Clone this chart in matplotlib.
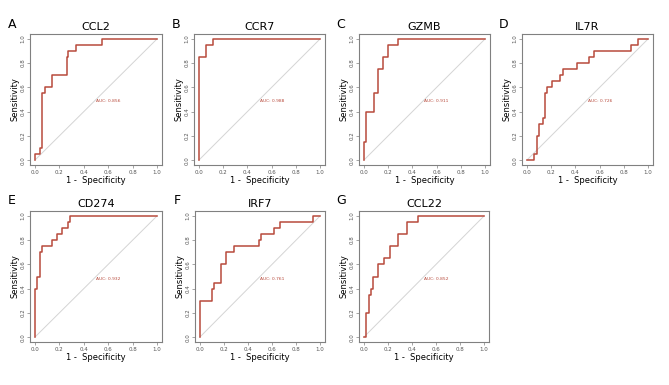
import matplotlib
matplotlib.use("Agg")
import matplotlib.pyplot as plt

# ROC step vertices: (1 - specificity, sensitivity)
letters = ["A", "B", "C", "D", "E", "F", "G"]
genes = ["CCL2", "CCR7", "GZMB", "IL7R", "CD274", "IRF7", "CCL22"]
aucs = [0.856, 0.988, 0.911, 0.726, 0.932, 0.761, 0.852]

fpr_ccl2 = [0, 0.04, 0.06, 0.08, 0.14, 0.26, 0.27, 0.34, 0.55, 1.0]
tpr_ccl2 = [0, 0.05, 0.10, 0.55, 0.60, 0.70, 0.85, 0.90, 0.95, 1.0]

fpr_ccr7 = [0, 0.06, 0.12, 1.0]
tpr_ccr7 = [0, 0.85, 0.95, 1.0]

fpr_gzmb = [0, 0.02, 0.08, 0.12, 0.16, 0.20, 0.28, 1.0]
tpr_gzmb = [0, 0.15, 0.40, 0.55, 0.75, 0.85, 0.95, 1.0]

fpr_il7r = [0, 0.06, 0.08, 0.10, 0.135, 0.15, 0.17, 0.21, 0.27, 0.30, 0.41, 0.51, 0.55, 0.86, 0.92, 1.0]
tpr_il7r = [0, 0.0, 0.05, 0.20, 0.30, 0.35, 0.55, 0.60, 0.65, 0.70, 0.75, 0.80, 0.85, 0.90, 0.95, 1.0]

fpr_cd274 = [0, 0.02, 0.04, 0.06, 0.14, 0.18, 0.22, 0.27, 0.29, 1.0]
tpr_cd274 = [0, 0.40, 0.50, 0.70, 0.75, 0.80, 0.85, 0.90, 0.95, 1.0]

fpr_irf7 = [0, 0.10, 0.12, 0.18, 0.22, 0.28, 0.49, 0.51, 0.62, 0.67, 0.94, 1.0]
tpr_irf7 = [0, 0.30, 0.40, 0.45, 0.60, 0.70, 0.75, 0.80, 0.85, 0.90, 0.95, 1.0]

fpr_ccl22 = [0, 0.02, 0.04, 0.06, 0.08, 0.12, 0.17, 0.22, 0.28, 0.36, 0.45, 1.0]
tpr_ccl22 = [0, 0.0, 0.20, 0.35, 0.40, 0.50, 0.60, 0.65, 0.75, 0.85, 0.95, 1.0]

curves = [(fpr_ccl2, tpr_ccl2), (fpr_ccr7, tpr_ccr7), (fpr_gzmb, tpr_gzmb),
          (fpr_il7r, tpr_il7r), (fpr_cd274, tpr_cd274), (fpr_irf7, tpr_irf7),
          (fpr_ccl22, tpr_ccl22)]

# panel boxes in pixels: left, top, right, bottom
W, H = 669, 385
boxes = [(30, 34, 162, 165), (194, 34, 325, 165), (359, 34, 490, 165), (522, 34, 653, 165),
         (30, 211, 162, 342), (195, 211, 325, 342), (359, 211, 489, 342)]

RED = "#b84a3c"
GREY = "#808080"

fig = plt.figure(figsize=(W / 100, H / 100), dpi=100)

for i, (l, t, r, b) in enumerate(boxes):
    ax = fig.add_axes([l / W, 1 - b / H, (r - l) / W, (b - t) / H])
    ax.plot([0, 1], [0, 1], color="#d4d4d4", lw=0.7)
    fpr, tpr = curves[i]
    ax.plot(fpr, tpr, drawstyle="steps-pre", color=RED, lw=1.1)
    ax.text(0.5, 0.5, f"AUC: {aucs[i]:.3f}", color=RED, fontsize=3.2,
            ha="left", va="top")
    ax.set_xlim(-0.04, 1.04)
    ax.set_ylim(-0.04, 1.04)
    ticks = [0, 0.2, 0.4, 0.6, 0.8, 1.0]
    ax.set_xticks(ticks)
    ax.set_yticks(ticks)
    ax.set_xticklabels([f"{v:.1f}" for v in ticks])
    ax.set_yticklabels([f"{v:.1f}" for v in ticks], rotation=90, va="center")
    ax.tick_params(labelsize=4, length=2, width=0.5, pad=1.5,
                   color=GREY, labelcolor="#555555")
    for s in ax.spines.values():
        s.set_color(GREY)
        s.set_linewidth(0.8)
    ax.set_xlabel("1 -  Specificity", fontsize=6, labelpad=0.5)
    ax.set_ylabel("Sensitivity", fontsize=6, labelpad=0.5)
    ax.set_title(genes[i], fontsize=8, pad=3)
    fig.text((l - 18) / W, 1 - (t - 10) / H, letters[i], fontsize=9,
             ha="center", va="center")

fig.savefig("out.png", dpi=100)
